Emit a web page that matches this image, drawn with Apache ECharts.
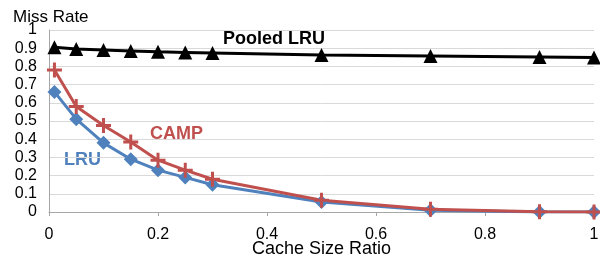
<!DOCTYPE html>
<html>
<head>
<meta charset="utf-8">
<script src="https://cdn.jsdelivr.net/npm/echarts@6/dist/echarts.min.js"></script>
<style>
html,body{margin:0;padding:0;background:#fff;}
#main{width:600px;height:262px;}
</style>
</head>
<body>
<div id="main"></div>
<script>
var ratios = [0.01, 0.05, 0.1, 0.15, 0.2, 0.25, 0.3, 0.5, 0.7, 0.9, 1.0];
var pooledLru = [0.905, 0.895, 0.89, 0.885, 0.88, 0.877, 0.874, 0.863, 0.857, 0.852, 0.849];
var camp = [0.78, 0.58, 0.475, 0.385, 0.285, 0.23, 0.18, 0.065, 0.015, 0.002, 0.0];
var lru = [0.66, 0.51, 0.38, 0.29, 0.23, 0.19, 0.15, 0.055, 0.01, 0.0, 0.0];

function pairs(vals){
	var out = [];
	for(var i=0;i<ratios.length;i++){
		out.push([ratios[i], vals[i]]);
	}
	return out;
}

var plusPath = 'path://M4,0 L6,0 L6,4 L10,4 L10,6 L6,6 L6,10 L4,10 L4,6 L0,6 L0,4 L4,4 Z';
var font = 'Liberation Sans, Arial, sans-serif';

var myChart = echarts.init(document.getElementById('main'));
var option = {
	animation: false,
	title: {
		text: 'Miss Rate',
		left: 8,
		top: 4,
		textStyle: { fontFamily: font, fontSize: 17, fontWeight: 'normal', color: '#000' }
	},
	grid: { left: 49, right: 6, top: 30, bottom: 50, containLabel: false, outerBoundsMode: 'none' },
	xAxis: {
		type: 'value',
		min: 0, max: 1, interval: 0.2,
		name: 'Cache Size Ratio',
		nameLocation: 'middle',
		nameGap: 28,
		nameMoveOverlap: false,
		nameTextStyle: { fontFamily: font, fontSize: 18, color: '#000' },
		axisLine: { lineStyle: { color: '#a6a6a6' } },
		axisTick: { show: true, length: 4, lineStyle: { color: '#a6a6a6' } },
		axisLabel: { fontFamily: font, fontSize: 16, color: '#000', margin: 15 },
		splitLine: { show: false }
	},
	yAxis: {
		type: 'value',
		min: 0, max: 1, interval: 0.1,
		axisLine: { show: true, lineStyle: { color: '#a6a6a6' } },
		axisTick: { show: false },
		axisLabel: { fontFamily: font, fontSize: 16, color: '#000', margin: 12 },
		splitLine: { lineStyle: { color: '#d9d9d9' } }
	},
	series: [{
		name: 'Pooled LRU',
		type: 'line',
		data: pairs(pooledLru),
		symbol: 'triangle',
		symbolSize: 14,
		lineStyle: { color: '#000', width: 3 },
		itemStyle: { color: '#000' }
	}, {
		name: 'LRU',
		type: 'line',
		data: pairs(lru),
		symbol: 'diamond',
		symbolSize: 14,
		lineStyle: { color: '#4f81bd', width: 3 },
		itemStyle: { color: '#4f81bd' }
	}, {
		name: 'CAMP',
		type: 'line',
		data: pairs(camp),
		symbol: plusPath,
		symbolSize: 15,
		lineStyle: { color: '#c0504d', width: 3 },
		itemStyle: { color: '#c0504d' }
	}],
	graphic: [
		{ type: 'text', left: 223, top: 30, style: { text: 'Pooled LRU', fontFamily: font, fontSize: 18, fontWeight: 'bold', fill: '#000' } },
		{ type: 'text', left: 150, top: 125, style: { text: 'CAMP', fontFamily: font, fontSize: 18, fontWeight: 'bold', fill: '#c0504d' } },
		{ type: 'text', left: 64, top: 151, style: { text: 'LRU', fontFamily: font, fontSize: 18, fontWeight: 'bold', fill: '#4f81bd' } }
	]
};
myChart.setOption(option);
</script>
</body>
</html>
